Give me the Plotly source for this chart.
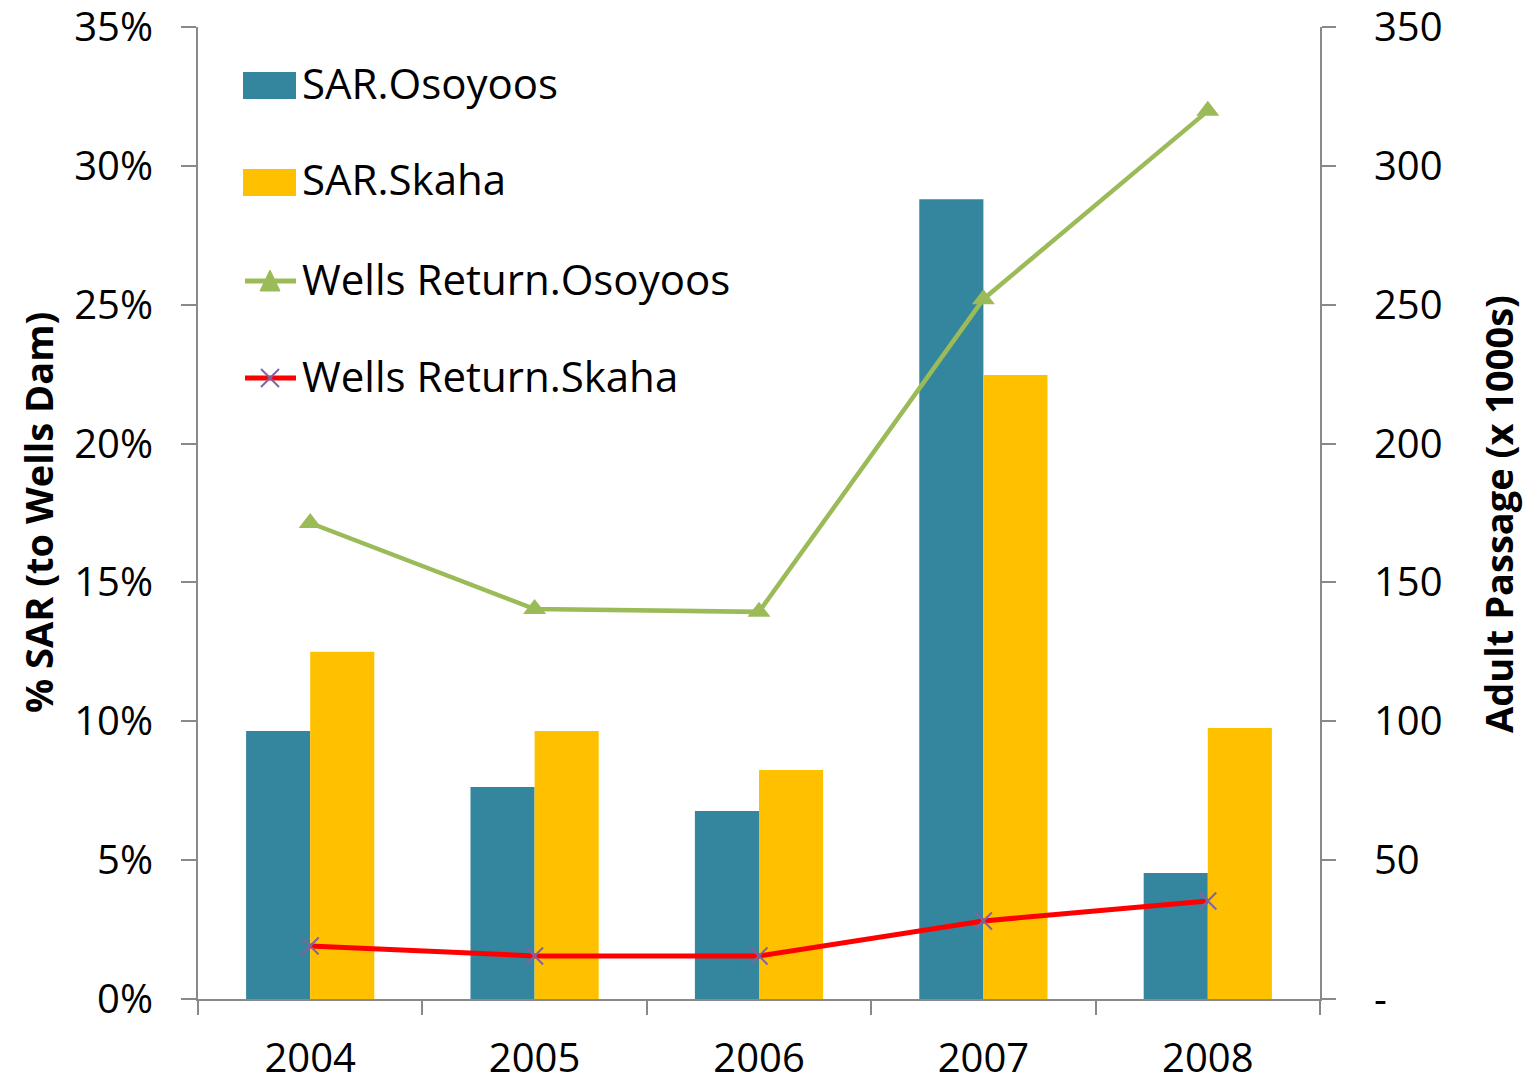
import plotly.graph_objects as go

# Data
years = ["2004", "2005", "2006", "2007", "2008"]
sar_osoyoos = [0.0965, 0.0763, 0.0677, 0.288, 0.0454]
sar_skaha = [0.125, 0.0965, 0.0825, 0.2247, 0.0976]
wells_osoyoos = [171.4, 140.4, 139.4, 252.0, 319.8]
wells_skaha = [19.1, 15.5, 15.5, 28.1, 35.3]

left_tickvals = [0, 0.05, 0.10, 0.15, 0.20, 0.25, 0.30, 0.35]
left_ticktext = ["0%", "5%", "10%", "15%", "20%", "25%", "30%", "35%"]
right_tickvals = [0, 50, 100, 150, 200, 250, 300, 350]
right_ticktext = ["-", "50", "100", "150", "200", "250", "300", "350"]

TEAL = "#33869D"
GOLD = "#FFC000"
GREEN = "#9BBB59"
RED = "#FF0000"
PURPLE = "#8064A2"
AXIS = "#898989"
FONT = "Open Sans"

W, H = 1536, 1084
L, R, T, B = 198, 216, 27, 85
PW, PH = W - L - R, H - T - B


def px(x):
    return (x - L) / PW


def py(y):
    return (H - B - y) / PH


fig = go.Figure()
fig.add_trace(go.Bar(x=years, y=sar_osoyoos, name="SAR.Osoyoos",
                     marker=dict(color=TEAL, line=dict(width=0))))
fig.add_trace(go.Bar(x=years, y=sar_skaha, name="SAR.Skaha",
                     marker=dict(color=GOLD, line=dict(width=0))))
fig.add_trace(go.Scatter(x=years, y=wells_osoyoos, name="Wells Return.Osoyoos",
                         yaxis="y2", mode="lines+markers",
                         line=dict(color=GREEN, width=4.5),
                         marker=dict(symbol="triangle-up", size=20, color=GREEN)))
fig.add_trace(go.Scatter(x=years, y=wells_skaha, name="Wells Return.Skaha",
                         yaxis="y2", mode="lines+markers",
                         line=dict(color=RED, width=5),
                         marker=dict(symbol="x-thin", size=17,
                                     line=dict(color=PURPLE, width=2))))

# Legend drawn as shapes and annotations
shapes = []
annotations = []
text_x = 300
shapes.append(dict(type="rect", xref="paper", yref="paper",
                   x0=px(243), x1=px(296), y0=py(99), y1=py(72),
                   fillcolor=TEAL, line=dict(width=0)))
shapes.append(dict(type="rect", xref="paper", yref="paper",
                   x0=px(243), x1=px(296), y0=py(196), y1=py(169),
                   fillcolor=GOLD, line=dict(width=0)))
shapes.append(dict(type="line", xref="paper", yref="paper",
                   x0=px(245), x1=px(296), y0=py(281), y1=py(281),
                   line=dict(color=GREEN, width=5)))
shapes.append(dict(type="path", xref="paper", yref="paper",
                   path=f"M {px(260)},{py(291)} L {px(280)},{py(291)} L {px(270)},{py(270)} Z",
                   fillcolor=GREEN, line=dict(color=GREEN, width=1)))
shapes.append(dict(type="line", xref="paper", yref="paper",
                   x0=px(245), x1=px(296), y0=py(378), y1=py(378),
                   line=dict(color=RED, width=5)))
shapes.append(dict(type="line", xref="paper", yref="paper",
                   x0=px(261), x1=px(279), y0=py(369), y1=py(387),
                   line=dict(color=PURPLE, width=2)))
shapes.append(dict(type="line", xref="paper", yref="paper",
                   x0=px(261), x1=px(279), y0=py(387), y1=py(369),
                   line=dict(color=PURPLE, width=2)))

for label, yc in [("SAR.Osoyoos", 82), ("SAR.Skaha", 179),
                  ("Wells Return.Osoyoos", 278), ("Wells Return.Skaha", 375)]:
    annotations.append(dict(text=label, xref="paper", yref="paper",
                            x=px(text_x), y=py(yc), xanchor="left", yanchor="middle",
                            showarrow=False, font=dict(family=FONT, size=42, color="black")))

# Axis titles
annotations.append(dict(text="<b>% SAR (to Wells Dam)</b>", xref="paper", yref="paper",
                        x=px(38), y=py(513), textangle=-90, showarrow=False,
                        xanchor="center", yanchor="middle",
                        font=dict(family=FONT, size=38, color="black")))
annotations.append(dict(text="<b>Adult Passage (x 1000s)</b>", xref="paper", yref="paper",
                        x=px(1498), y=py(514), textangle=-90, showarrow=False,
                        xanchor="center", yanchor="middle",
                        font=dict(family=FONT, size=38, color="black")))

fig.update_layout(
    width=W, height=H,
    margin=dict(l=L, r=R, t=T, b=B, pad=0, autoexpand=False),
    paper_bgcolor="white", plot_bgcolor="white",
    barmode="group", bargap=0.4286, bargroupgap=0,
    showlegend=False,
    font=dict(family=FONT, size=40, color="black"),
    shapes=shapes, annotations=annotations,
    xaxis=dict(type="category", showline=True, linecolor=AXIS, linewidth=2,
               ticks="outside", tickson="boundaries", ticklen=14, tickcolor=AXIS,
               tickwidth=2, showgrid=False, zeroline=False, automargin=False,
               tickfont=dict(family=FONT, size=40, color="black"),
               ticklabelstandoff=23),
    yaxis=dict(range=[0, 0.35], tickvals=left_tickvals, ticktext=left_ticktext,
               showline=True, linecolor=AXIS, linewidth=2, ticks="outside",
               ticklen=15, tickcolor=AXIS, tickwidth=2, showgrid=False,
               zeroline=False, ticklabeloverflow="allow", automargin=False,
               tickfont=dict(family=FONT, size=40, color="black"),
               ticklabelstandoff=20),
    yaxis2=dict(range=[0, 350], tickvals=right_tickvals, ticktext=right_ticktext,
                overlaying="y", side="right", showline=True, linecolor=AXIS,
                linewidth=2, ticks="outside", ticklen=14, tickcolor=AXIS, tickwidth=2,
                showgrid=False, zeroline=False, ticklabeloverflow="allow",
                automargin=False,
                tickfont=dict(family=FONT, size=40, color="black"),
                ticklabelstandoff=30),
)

fig.write_html("out.html")
